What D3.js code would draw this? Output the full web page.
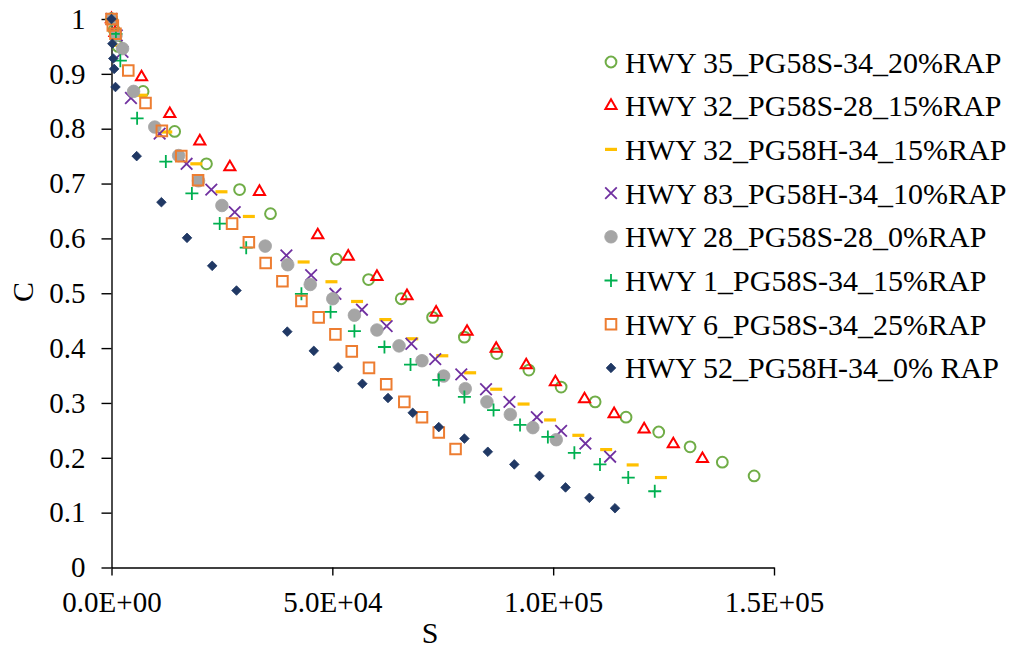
<!DOCTYPE html>
<html>
<head>
<meta charset="utf-8">
<script src="https://cdn.jsdelivr.net/npm/d3@7"></script>
<style>
  html, body { margin: 0; padding: 0; background: #fff; }
  svg { display: block; }
</style>
</head>
<body>
<svg id="chart" width="1013" height="649"></svg>
<script>
// ---------- DATA ----------
const seriesNames = [
  "HWY 35_PG58S-34_20%RAP",
  "HWY 32_PG58S-28_15%RAP",
  "HWY 32_PG58H-34_15%RAP",
  "HWY 83_PG58H-34_10%RAP",
  "HWY 28_PG58S-28_0%RAP",
  "HWY 1_PG58S-34_15%RAP",
  "HWY 6_PG58S-34_25%RAP",
  "HWY 52_PG58H-34_0% RAP"
];

const hwy35S = [0, 600, 1500, 7150, 14300, 21500, 29000, 36000, 50900, 58200, 65600, 72700, 79900, 87200, 94500, 101800, 109500, 116500, 123900, 131000, 138300, 145500];
const hwy35C = [1.0, 0.98, 0.95, 0.868, 0.795, 0.736, 0.689, 0.645, 0.562, 0.525, 0.490, 0.456, 0.420, 0.390, 0.360, 0.329, 0.302, 0.274, 0.247, 0.220, 0.192, 0.167];

const hwy32sS = [0, 800, 6800, 13200, 20000, 26800, 33500, 46700, 53600, 60100, 66900, 73500, 80500, 87100, 93900, 100500, 107100, 113800, 120600, 127200, 133800];
const hwy32sC = [1.0, 0.975, 0.894, 0.827, 0.777, 0.730, 0.685, 0.606, 0.567, 0.530, 0.495, 0.465, 0.430, 0.399, 0.369, 0.338, 0.307, 0.280, 0.252, 0.225, 0.198];

const hwy32hS = [0, 1000, 2000, 6800, 12400, 19200, 24900, 31100, 43500, 49800, 55600, 62000, 68100, 74900, 81200, 87100, 93300, 99300, 105700, 112000, 118000, 124400];
const hwy32hC = [1.0, 0.975, 0.952, 0.861, 0.794, 0.736, 0.685, 0.640, 0.557, 0.521, 0.485, 0.452, 0.417, 0.386, 0.355, 0.325, 0.298, 0.269, 0.241, 0.215, 0.187, 0.164];

const hwy83S = [0, 1200, 2500, 4400, 10900, 17000, 22600, 27900, 39600, 45200, 50700, 56700, 62300, 67900, 73300, 79200, 84800, 90100, 96300, 101800, 107300, 112900];
const hwy83C = [1.0, 0.97, 0.94, 0.856, 0.791, 0.736, 0.689, 0.648, 0.569, 0.533, 0.499, 0.470, 0.440, 0.408, 0.380, 0.352, 0.325, 0.302, 0.274, 0.249, 0.226, 0.202];

const hwy28S = [0, 1000, 2500, 5000, 9800, 15200, 19700, 25000, 34800, 39900, 45000, 50100, 55000, 60100, 65100, 70300, 75200, 80100, 85000, 90300, 95400, 100700];
const hwy28C = [1.0, 0.97, 0.946, 0.868, 0.803, 0.751, 0.705, 0.660, 0.586, 0.552, 0.516, 0.490, 0.460, 0.433, 0.404, 0.377, 0.349, 0.326, 0.302, 0.279, 0.255, 0.233];

const hwy1S = [0, 1000, 2000, 5800, 12300, 18200, 24500, 30500, 43000, 49600, 55000, 61800, 67700, 74100, 79900, 86500, 92500, 98800, 104800, 110600, 117000, 123000];
const hwy1C = [1.0, 0.973, 0.924, 0.819, 0.740, 0.682, 0.627, 0.583, 0.499, 0.466, 0.431, 0.402, 0.370, 0.342, 0.311, 0.287, 0.260, 0.238, 0.209, 0.188, 0.164, 0.139];

const hwy6S = [0, 300, 900, 3800, 7700, 11400, 15800, 19600, 27300, 31100, 34900, 38700, 43000, 46900, 50700, 54400, 58300, 62200, 66300, 70300, 74100, 77900];
const hwy6C = [1.0, 0.988, 0.973, 0.906, 0.847, 0.796, 0.750, 0.706, 0.627, 0.593, 0.555, 0.522, 0.486, 0.456, 0.425, 0.394, 0.364, 0.334, 0.302, 0.274, 0.246, 0.216];

const hwy52S = [0, 200, 400, 600, 900, 5700, 11300, 17100, 22800, 28300, 39800, 45800, 51300, 56800, 62600, 68200, 74100, 79900, 85200, 91200, 96900, 102800, 108200, 114000];
const hwy52C = [1.0, 0.955, 0.928, 0.909, 0.876, 0.750, 0.666, 0.601, 0.550, 0.505, 0.430, 0.395, 0.365, 0.335, 0.309, 0.282, 0.256, 0.235, 0.211, 0.188, 0.167, 0.146, 0.127, 0.108];

const xTicks = [0, 50000, 100000, 150000];
const yTicks = [0, 0.1, 0.2, 0.3, 0.4, 0.5, 0.6, 0.7, 0.8, 0.9, 1];

// ---------- STYLE ----------
const seriesStyle = [
  { marker: "circle",   color: "#70AD47", fill: false },
  { marker: "triangle", color: "#FF0000", fill: false },
  { marker: "dash",     color: "#FFC000", fill: false },
  { marker: "x",        color: "#7030A0", fill: false },
  { marker: "dot",      color: "#A5A5A5", fill: true  },
  { marker: "plus",     color: "#00B050", fill: false },
  { marker: "square",   color: "#ED7D31", fill: false },
  { marker: "diamond",  color: "#203864", fill: true  }
];
const seriesData = [
  [hwy35S, hwy35C], [hwy32sS, hwy32sC], [hwy32hS, hwy32hC], [hwy83S, hwy83C],
  [hwy28S, hwy28C], [hwy1S, hwy1C], [hwy6S, hwy6C], [hwy52S, hwy52C]
];

const FONT = "Liberation Serif";
const svg = d3.select("#chart");
const x = d3.scaleLinear().domain([0, 150000]).range([111.5, 774]);
const y = d3.scaleLinear().domain([0, 1]).range([567.5, 19]);

function markerPath(type) {
  switch (type) {
    case "circle":   return d3.symbol(d3.symbolCircle, Math.PI * 5.4 * 5.4)();
    case "dot":      return d3.symbol(d3.symbolCircle, Math.PI * 6.3 * 6.3)();
    case "triangle": return d3.symbol(d3.symbolTriangle, 54)();
    case "square":   return d3.symbol(d3.symbolSquare, 112)();
    case "diamond": {
      const h = 4.8;
      return `M0,${-h}L${h},0L0,${h}L${-h},0Z`;
    }
    case "plus":  { const h = 6.5; return `M${-h},0L${h},0M0,${-h}L0,${h}`; }
    case "x":     { const h = 5.8; return `M${-h},${-h}L${h},${h}M${-h},${h}L${h},${-h}`; }
    case "dash":  { const h = 6;   return `M${-h},0L${h},0`; }
  }
}

function drawMarker(sel, st) {
  const p = sel.append("path").attr("d", markerPath(st.marker));
  if (st.fill) {
    p.attr("fill", st.color).attr("stroke", st.color).attr("stroke-width", 0.8);
  } else {
    p.attr("fill", "none").attr("stroke", st.color)
     .attr("stroke-width", st.marker === "dash" ? 3.2 : (st.marker === "plus" || st.marker === "x" ? 1.8 : 2));
  }
}

// ---------- AXES ----------
function sciFmt(d) {
  if (d === 0) return "0.0E+00";
  const e = Math.floor(Math.log10(Math.abs(d)));
  const m = d / Math.pow(10, e);
  return m.toFixed(1) + "E+" + String(e).padStart(2, "0");
}

const xAxis = d3.axisBottom(x).tickValues(xTicks).tickFormat(sciFmt).tickSize(8).tickSizeOuter(0).tickPadding(16);
const yAxis = d3.axisLeft(y).tickValues(yTicks).tickFormat(d3.format("~g")).tickSize(10).tickSizeOuter(0).tickPadding(16);

const gx = svg.append("g").attr("transform", `translate(0,${y(0)})`).call(xAxis);
const gy = svg.append("g").attr("transform", `translate(${x(0)},0)`).call(yAxis);
[gx, gy].forEach(g => {
  g.attr("font-family", FONT).attr("font-size", 29);
  g.select(".domain").attr("stroke", "#000").attr("stroke-width", 1.4);
  g.selectAll(".tick line").attr("stroke", "#000").attr("stroke-width", 1.4);
  g.selectAll(".tick text").attr("fill", "#000").attr("font-family", FONT).attr("font-size", 29);
});

// axis titles
svg.append("text").attr("x", 430).attr("y", 643).attr("text-anchor", "middle")
  .attr("font-family", FONT).attr("font-size", 30).attr("fill", "#000").text("S");
svg.append("text").attr("transform", "translate(33,292) rotate(-90)").attr("text-anchor", "middle")
  .attr("font-family", FONT).attr("font-size", 30).attr("fill", "#000").text("C");

// ---------- POINTS ----------
seriesData.forEach((sd, i) => {
  const st = seriesStyle[i];
  const pts = sd[0].map((s, k) => ({ s: s, c: sd[1][k] }));
  const g = svg.append("g");
  pts.forEach(p => {
    const m = g.append("g").attr("transform", `translate(${x(p.s)},${y(p.c)})`);
    drawMarker(m, st);
  });
});

// ---------- LEGEND ----------
const leg = svg.append("g");
seriesNames.forEach((name, i) => {
  const cy = 62 + i * 43.7;
  const m = leg.append("g").attr("transform", `translate(611,${cy})`);
  drawMarker(m, seriesStyle[i]);
  leg.append("text").attr("x", 625).attr("y", cy + 10.5)
    .attr("font-family", FONT).attr("font-size", 30).attr("fill", "#000").text(name);
});
</script>
</body>
</html>
